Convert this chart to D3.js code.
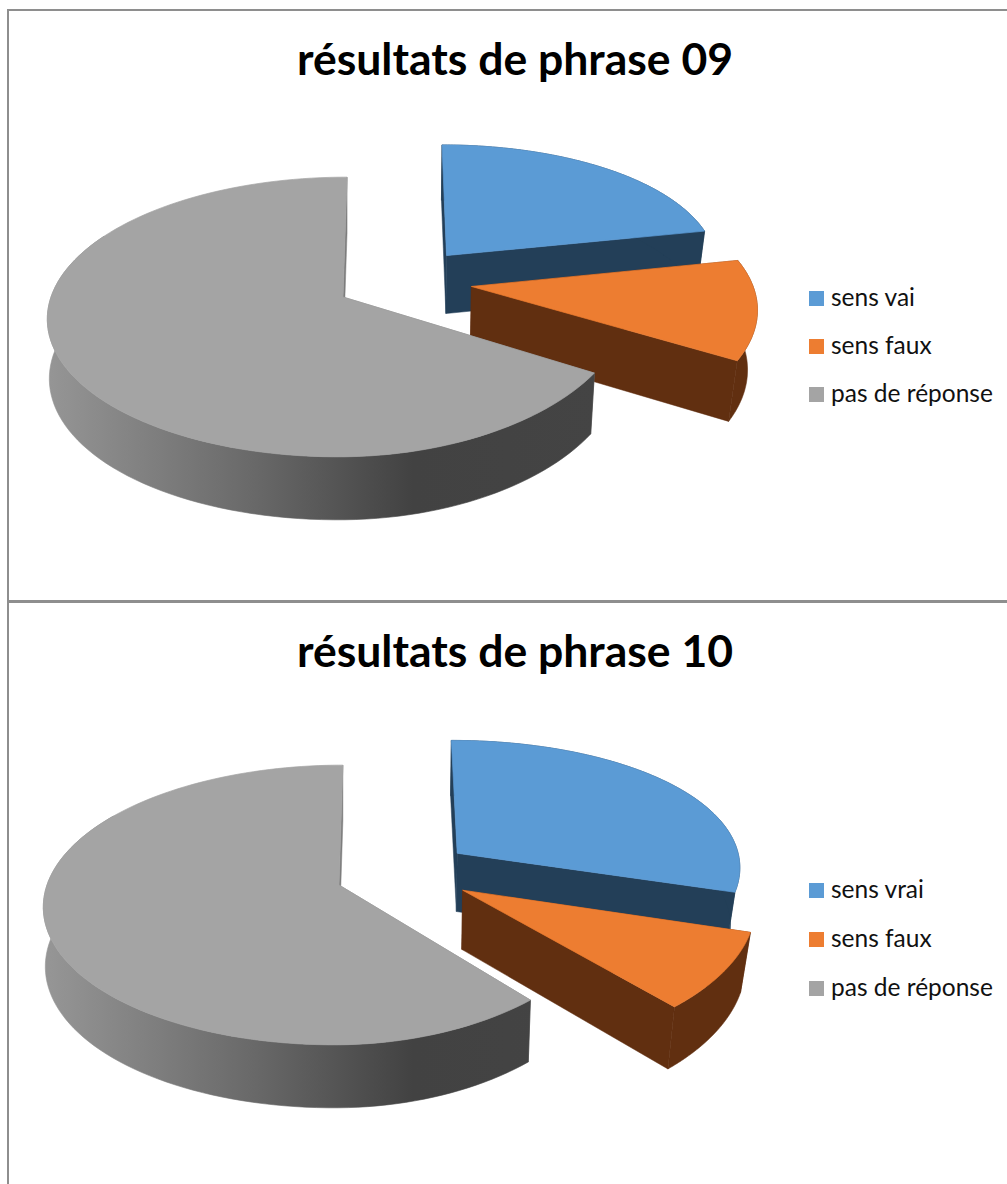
<!DOCTYPE html>
<html><head><meta charset="utf-8">
<script src="https://cdnjs.cloudflare.com/ajax/libs/d3/7.8.5/d3.min.js"></script>
<style>html,body{margin:0;padding:0;background:#fff}svg{display:block}text{font-family:Lato,"Noto Sans",sans-serif}</style>
</head><body><svg id="c" width="1007" height="1184"></svg>
<script>
const legend09 = ["sens vai","sens faux","pas de réponse"];
const legend10 = ["sens vrai","sens faux","pas de réponse"];
const values09 = [21.8,11.8,66.4];
const values10 = [29.7,8.8,61.5];
const topColors = ["#5b9bd5","#ed7d31","#a4a4a4"];
const wallColors = ["#233f58","#612f10","#7d7d7d"];

const svg = d3.select("#c");
const defs = svg.append("defs");
const line = d3.line().curve(d3.curveLinear);

const RL=292, RR=294, K=137, P=1/7, PX=0.09, S=-4.4, EXPLODE=0.24;

function drawPie(cfg){
  const {values,px,py,gid,nudge,rim,shear}=cfg;
  const g=defs.append("linearGradient").attr("id",gid).attr("gradientUnits","userSpaceOnUse")
    .attr("x1",50).attr("x2",600).attr("y1",0).attr("y2",0);
  [[0,"#959595"],[.36,"#6a6a6a"],[.66,"#424242"],[1,"#444444"]].forEach(s=>g.append("stop").attr("offset",s[0]).attr("stop-color",s[1]));

  const arcs=d3.pie().sort(null).value(d=>d)(values);
  const dir=a=>[Math.sin(a),-Math.cos(a)];
  const gm=(arcs[2].startAngle+arcs[2].endAngle)/2;
  const gd=dir(gm);
  const C=[-EXPLODE*gd[0],-EXPLODE*gd[1]];
  const top=([u,v])=>[px+((u<0?RL:RR)*u+S*v)/(1-(u<0?P:PX)*v), py+K*v/(1-P*v)];
  const bot=(p)=>{
    const [x,y]=top(p), dx=x-px;
    const sx=dx>0?-5.8e-5*dx*dx:2.3e-5*dx*dx;
    return [x+sx, y+59+(y-py)*0.025];
  };

  arcs.forEach((a,i)=>{
    const m=(a.startAngle+a.endAngle)/2, dm=dir(m);
    const A=[C[0]+EXPLODE*dm[0],C[1]+EXPLODE*dm[1]];
    const pts=d3.range(0,121).map(k=>{
      const t=a.startAngle+(a.endAngle-a.startAngle)*k/120, d=dir(t);
      return [A[0]+d[0]*(d[0]>0?rim[i]:1),A[1]+d[1]];
    });
    const n=nudge[i];
    const T=p=>{const q=top(p);return [q[0]+n[0]+shear[i]*(p[1]-A[1]),q[1]+n[1]];};
    const B=p=>{const q=bot(p);return [q[0]+n[0]+shear[i]*(p[1]-A[1]),q[1]+n[1]];};
    const sg=svg.append("g");
    const wall=wallColors[i];
    [pts[0],pts[120]].forEach(p=>{
      sg.append("path").attr("d",line([T(A),T(p),B(p),B(A)])+"Z").attr("fill",wall).attr("stroke",wall).attr("stroke-width",.5);
    });
    const front=i===2?pts.filter((p,k)=>k<90):pts;
    const outer=front.map(T).concat(front.slice().reverse().map(B));
    const fill=i===2?`url(#${gid})`:wall;
    sg.append("path").attr("d",line(outer)+"Z").attr("fill",fill).attr("stroke",fill).attr("stroke-width",.6);
    sg.append("path").attr("d",line([T(A)].concat(pts.map(T)))+"Z").attr("fill",topColors[i]).attr("stroke",topColors[i]).attr("stroke-width",.7);
  });
}

function drawLegend(labels,x,ys){
  labels.forEach((t,i)=>{
    svg.append("rect").attr("x",x).attr("y",ys[i]).attr("width",15).attr("height",15).attr("fill",topColors[i]);
    svg.append("text").attr("x",x+22).attr("y",ys[i]+15).attr("font-size",24.5).attr("fill","#111").text(t);
  });
}
function drawTitle(t,y){
  svg.append("text").attr("x",515).attr("y",y).attr("text-anchor","middle").attr("font-size",44.5).attr("font-weight",700).attr("fill","#000").text(t);
}

const frame="#8e8e8e";
svg.append("rect").attr("x",7).attr("y",9).attr("width",2).attr("height",1175).attr("fill",frame);
svg.append("rect").attr("x",7).attr("y",9).attr("width",1000).attr("height",2).attr("fill",frame);
svg.append("rect").attr("x",7).attr("y",600).attr("width",1000).attr("height",3).attr("fill",frame);

drawTitle("résultats de phrase 09",75);
drawPie({values:values09,px:343,py:297,gid:"g1",nudge:[[-1,-1.5],[-2,0],[0,0]],rim:[.94,.965,.96],shear:[0,17,0]});
drawLegend(legend09,809,[291,339,387]);
drawTitle("résultats de phrase 10",667);
drawPie({values:values10,px:339,py:885,gid:"g2",nudge:[[-3,-1.5],[-2,-1],[0,0]],rim:[.975,.985,.935],shear:[0,0,0]});
drawLegend(legend10,809,[883,932,981]);
</script></body></html>
